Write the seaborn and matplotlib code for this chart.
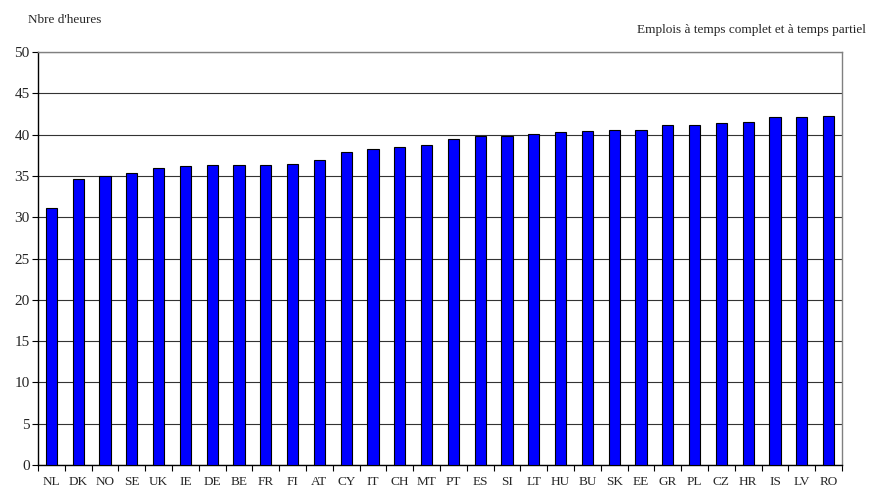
import matplotlib
matplotlib.use("Agg")
import matplotlib.pyplot as plt
import seaborn as sns
import pandas as pd
import numpy as np

countries = ["NL", "DK", "NO", "SE", "UK", "IE", "DE", "BE", "FR", "FI", "AT", "CY", "IT", "CH", "MT",
             "PT", "ES", "SI", "LT", "HU", "BU", "SK", "EE", "GR", "PL", "CZ", "HR", "IS", "LV", "RO"]
hours = [31.1, 34.6, 35.0, 35.3, 36.0, 36.15, 36.3, 36.3, 36.3, 36.4, 36.95, 37.9, 38.3, 38.55, 38.7,
         39.5, 39.85, 39.85, 40.1, 40.3, 40.45, 40.55, 40.55, 41.15, 41.15, 41.4, 41.5, 42.15, 42.15, 42.3]
yticks = [0, 5, 10, 15, 20, 25, 30, 35, 40, 45, 50]

sns.set_style("white")
plt.rcParams['font.family'] = ['Liberation Serif', 'DejaVu Serif']

df = pd.DataFrame({"pays": countries, "heures": hours})

fig = plt.figure(figsize=(8.69, 4.90), dpi=100)
ax = fig.add_axes([38/869, 1-465/490, (842-38)/869, (465-52)/490])

sns.barplot(data=df, x="pays", y="heures", color="#0000FF", saturation=1,
            edgecolor="black", linewidth=0.8, width=0.42, ax=ax, zorder=3)

ax.set_xlim(-0.5, len(countries) - 0.5)
ax.set_ylim(0, 50)
ax.set_yticks(yticks)
ax.yaxis.grid(True, color="#333333", linewidth=0.8, zorder=0)
ax.set_axisbelow(True)
ax.set_xlabel("")
ax.set_ylabel("")

ax.tick_params(axis="y", direction="out", length=4, width=0.8, color="black", labelsize=11, pad=2, left=True)
ax.tick_params(axis="x", which="major", length=0, labelsize=9.5, pad=8)
ax.set_xticks(np.arange(-0.5, len(countries), 1.0), minor=True)
ax.tick_params(axis="x", which="minor", direction="out", length=4, width=0.8, color="black", bottom=True)

for s in ["left", "bottom"]:
    ax.spines[s].set_color("black")
    ax.spines[s].set_linewidth(1.0)
for s in ["top", "right"]:
    ax.spines[s].set_visible(True)
    ax.spines[s].set_color("#808080")
    ax.spines[s].set_linewidth(1.0)

fig.text(28/869, 1-20/490, "Nbre d'heures", fontsize=9.5, ha="left", va="center")
fig.text(866/869, 1-30/490, "Emplois à temps complet et à temps partiel", fontsize=9.5, ha="right", va="center")

fig.savefig("out.png", dpi=100)
